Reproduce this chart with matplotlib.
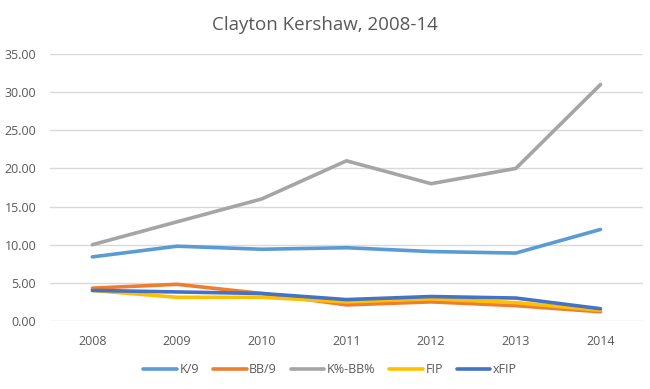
import numpy as np
import matplotlib.pyplot as plt

years = ["2008", "2009", "2010", "2011", "2012", "2013", "2014"]
k9 = [8.4, 9.8, 9.4, 9.6, 9.1, 8.9, 12.0]
bb9 = [4.3, 4.8, 3.6, 2.1, 2.5, 2.0, 1.2]
kbb = [10.0, 13.0, 16.0, 21.0, 18.0, 20.0, 31.0]
fip = [4.0, 3.1, 3.1, 2.5, 2.9, 2.4, 1.4]
xfip = [4.0, 3.8, 3.6, 2.8, 3.2, 3.0, 1.6]

plt.rcParams['font.family'] = ['Open Sans', 'DejaVu Sans']

fig = plt.figure(figsize=(6.5, 3.89), dpi=100)
ax = fig.add_axes([0.077, 0.175, 0.912, 0.686])

x = np.arange(len(years))
series = [("K/9", k9, "#5B9BD5"), ("BB/9", bb9, "#ED7D31"),
          ("K%-BB%", kbb, "#A5A5A5"), ("FIP", fip, "#FFC000"),
          ("xFIP", xfip, "#4472C4")]
for name, vals, col in series:
    ax.plot(x, vals, color=col, lw=2.6, label=name, solid_capstyle='round')

ax.set_xlim(-0.5, 6.5)
ax.set_ylim(0, 35)
ax.set_yticks(np.arange(0, 36, 5))
ax.set_yticklabels([f"{v:.2f}" for v in np.arange(0, 36, 5)])
ax.set_xticks(x)
ax.set_xticklabels(years)
ax.tick_params(axis='y', length=0, labelsize=9, colors="#595959", pad=10)
ax.tick_params(axis='x', length=0, labelsize=9, colors="#595959", pad=10)
ax.grid(axis='y', color="#D9D9D9", lw=1)
ax.set_axisbelow(True)
for s in ax.spines.values():
    s.set_visible(False)

fig.suptitle("Clayton Kershaw, 2008-14", y=0.96, fontsize=13.5, color="#595959")
fig.legend(loc='center', bbox_to_anchor=(0.508, 0.05), ncol=5, frameon=False,
           fontsize=9, labelcolor="#595959", handlelength=2.7, handletextpad=0.2,
           columnspacing=1.1)

fig.savefig("out.png", dpi=100)
